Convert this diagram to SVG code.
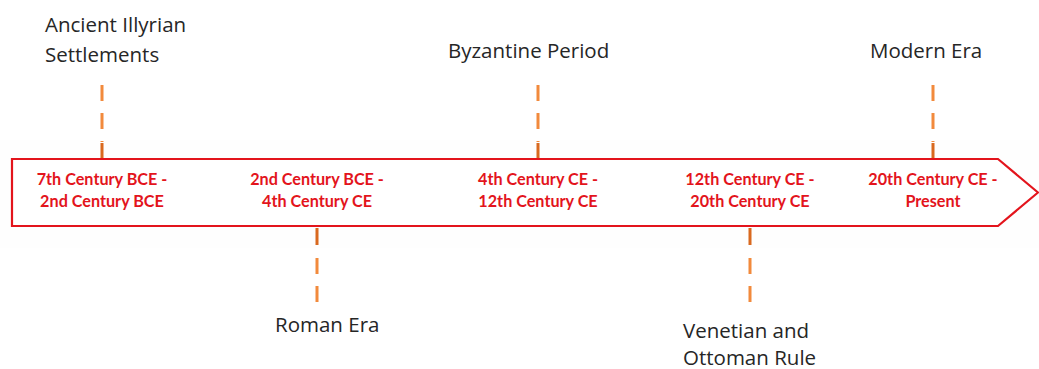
<svg xmlns="http://www.w3.org/2000/svg" width="1039" height="369" viewBox="0 0 1039 369">
  <style>
    .era { font-family: "Open Sans", "DejaVu Sans", sans-serif; font-size: 20.5px; fill: #262626; }
    .range { font-family: Lato, "Liberation Sans", sans-serif; font-size: 16.2px; font-weight: bold; fill: #e3141c; text-anchor: middle; }
    .tick { stroke: #f28a3c; stroke-width: 3; stroke-dasharray: 16 12; fill: none; }
    .tick-dark { stroke: #d9691f; stroke-width: 3; fill: none; }
  </style>
  <rect width="1039" height="369" fill="#ffffff"/>
  <!-- faint band behind the timeline -->
  <rect x="0" y="140" width="1039" height="108" fill="#fefefe"/>

  <!-- timeline arrow -->
  <g id="timeline">
    <path d="M12,159 H998 L1038,192.5 L998,226 H12 Z" fill="#ffffff" stroke="#e3141c" stroke-width="2.2"/>
  </g>

  <!-- connectors -->
  <g id="connectors">
    <line class="tick" x1="102" y1="85" x2="102" y2="142"/>
    <line class="tick-dark" x1="102" y1="143" x2="102" y2="158"/>
    <line class="tick" x1="538" y1="85" x2="538" y2="142"/>
    <line class="tick-dark" x1="538" y1="143" x2="538" y2="158"/>
    <line class="tick" x1="933" y1="85" x2="933" y2="142"/>
    <line class="tick-dark" x1="933" y1="143" x2="933" y2="158"/>
    <line class="tick-dark" x1="317" y1="228" x2="317" y2="245"/>
    <line class="tick" x1="317" y1="258" x2="317" y2="303" stroke-dasharray="17 13"/>
    <line class="tick-dark" x1="750" y1="228" x2="750" y2="245"/>
    <line class="tick" x1="750" y1="258" x2="750" y2="303" stroke-dasharray="17 13"/>
  </g>

  <g id="node-illyrian">
    <text class="era" x="45" y="32">Ancient Illyrian</text>
    <text class="era" x="45" y="62">Settlements</text>
    <text class="range" x="102" y="185">7th Century BCE -</text>
    <text class="range" x="102" y="207">2nd Century BCE</text>
  </g>
  <g id="node-roman">
    <text class="era" x="275" y="332">Roman Era</text>
    <text class="range" x="317" y="185">2nd Century BCE -</text>
    <text class="range" x="317" y="207">4th Century CE</text>
  </g>
  <g id="node-byzantine">
    <text class="era" x="448" y="58">Byzantine Period</text>
    <text class="range" x="538" y="185">4th Century CE -</text>
    <text class="range" x="538" y="207">12th Century CE</text>
  </g>
  <g id="node-venetian-ottoman">
    <text class="era" x="683" y="338">Venetian and</text>
    <text class="era" x="683" y="365">Ottoman Rule</text>
    <text class="range" x="750" y="185">12th Century CE -</text>
    <text class="range" x="750" y="207">20th Century CE</text>
  </g>
  <g id="node-modern">
    <text class="era" x="870" y="58">Modern Era</text>
    <text class="range" x="933" y="185">20th Century CE -</text>
    <text class="range" x="933" y="207">Present</text>
  </g>
</svg>
